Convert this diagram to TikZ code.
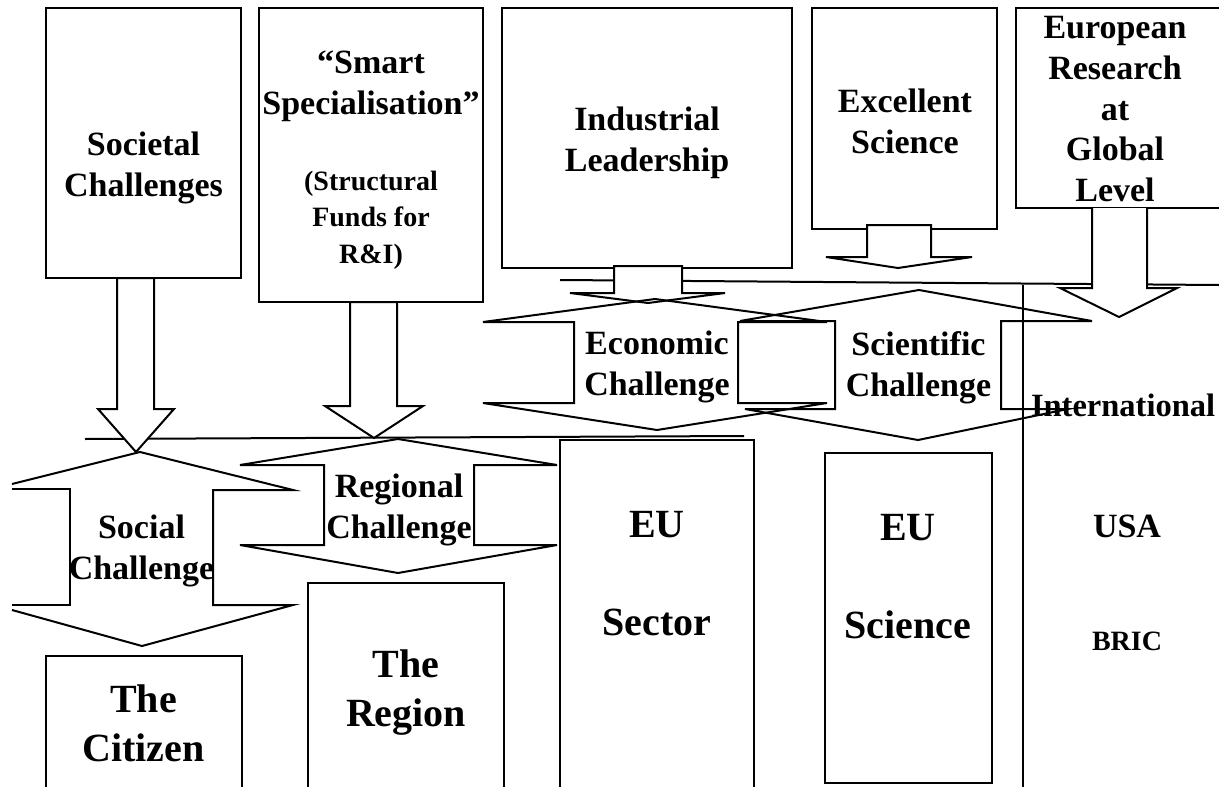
\documentclass[tikz,border=0pt]{standalone}
\usepackage{fontspec}
\setmainfont{Liberation Serif}
\newcommand\stk[1]{\begin{tabular}[t]{@{}c@{}}#1\end{tabular}}
\begin{document}
\begin{tikzpicture}[x=1pt,y=-1pt,line width=2pt,line join=miter,
  lbl/.style={inner sep=0pt,anchor=base,font=\bfseries\fontsize{34}{41}\selectfont},
  big/.style={inner sep=0pt,anchor=base,font=\bfseries\fontsize{40}{49}\selectfont},
  mid/.style={inner sep=0pt,anchor=base,font=\bfseries\fontsize{28}{36.5}\selectfont},
  arrowfill/.style={draw=black,fill=white},
  outline/.style={draw=black}]
\useasboundingbox (0,0) rectangle (1219,787);
\clip (0,0) rectangle (1219,787);
% long connecting lines
\draw (85,439) -- (744,436);
\draw (560,280) -- (1219,285);
\draw (1023,285) -- (1023,787);
% top boxes
\draw (46,8) rectangle (241,278);
\draw (259,8) rectangle (483,302);
\draw (502,8) rectangle (792,268);
\draw (812,8) rectangle (997,229);
\draw (1225,8) -- (1016,8) -- (1016,208) -- (1225,208);
% block arrows from the top boxes
\draw[arrowfill] (117,278) -- (117,409) -- (98,409) -- (136,452) -- (174,409) -- (154,409) -- (154,278) -- cycle;
\draw[arrowfill] (350,302) -- (350,406) -- (325,406) -- (374,438) -- (423,406) -- (397,406) -- (397,302) -- cycle;
\draw[arrowfill] (614,266) -- (614,293) -- (570,293) -- (648,303) -- (725,293) -- (682,293) -- (682,266) -- cycle;
\draw[arrowfill] (867,225) -- (867,257) -- (826,257) -- (898,268) -- (972,257) -- (931,257) -- (931,225) -- cycle;
\draw[arrowfill] (1092,208) -- (1092,288) -- (1060,288) -- (1119,317) -- (1177,288) -- (1147,288) -- (1147,208);
% challenge shapes (up-down arrows)
\draw (12,484) -- (140,452) -- (293,490) -- (213,490) -- (213,605) -- (293,605) -- (142,646) -- (12,610);
\draw (12,489) -- (70,489) -- (70,605) -- (12,605);
\draw (240,465) -- (398,439) -- (557,465) -- (474,465) -- (474,545) -- (557,545) -- (398,573) -- (240,545) -- (324,545) -- (324,465) -- cycle;
\draw (483,322) -- (655,299) -- (827,322) -- (738,322) -- (738,403) -- (827,403) -- (657,430) -- (483,403) -- (574,403) -- (574,322) -- cycle;
\draw (740,321) -- (919,290) -- (1092,321) -- (1001,321) -- (1001,409) -- (1068,409) -- (918,440) -- (745,409) -- (835,409) -- (835,321) -- cycle;
% bottom boxes
\draw (46,790) -- (46,656) -- (242,656) -- (242,790);
\draw (308,790) -- (308,583) -- (504,583) -- (504,790);
\draw (560,790) -- (560,440) -- (754,440) -- (754,790);
\draw (825,453) rectangle (992,783);
% labels
\node[lbl] (soc) at (143.5,155) {\stk{Societal\\Challenges}};
\node[lbl] (smart) at (371,73) {\stk{“Smart\\Specialisation”}};
\node[mid] (funds) at (371,190) {\stk{(Structural\\Funds for\\R\&I)}};
\node[lbl] (ind) at (647,130) {\stk{Industrial\\Leadership}};
\node[lbl] (exc) at (905,112) {\stk{Excellent\\Science}};
\node[lbl] (eur) at (1115,38) {\stk{European\\Research\\at\\Global\\Level}};
\node[lbl] (social) at (141.5,538) {\stk{Social\\Challenge}};
\node[lbl] (regional) at (399,497) {\stk{Regional\\Challenge}};
\node[lbl] (econ) at (657,354) {\stk{Economic\\Challenge}};
\node[lbl] (sci) at (918.5,355) {\stk{Scientific\\Challenge}};
\node[lbl,anchor=base west,font=\bfseries\fontsize{32.5}{40}\selectfont] (intl) at (1030,416) {International};
\node[big] (citizen) at (143.5,712) {\stk{The\\Citizen}};
\node[big] (region) at (406,677) {\stk{The\\Region}};
\node[big] (sector) at (657,537) {\stk{EU\\[49pt]Sector}};
\node[big] (science) at (908,540) {\stk{EU\\[49pt]Science}};
\node[lbl] (usa) at (1127,537) {USA};
\node[mid] (bric) at (1127,650) {BRIC};
\end{tikzpicture}
\end{document}
